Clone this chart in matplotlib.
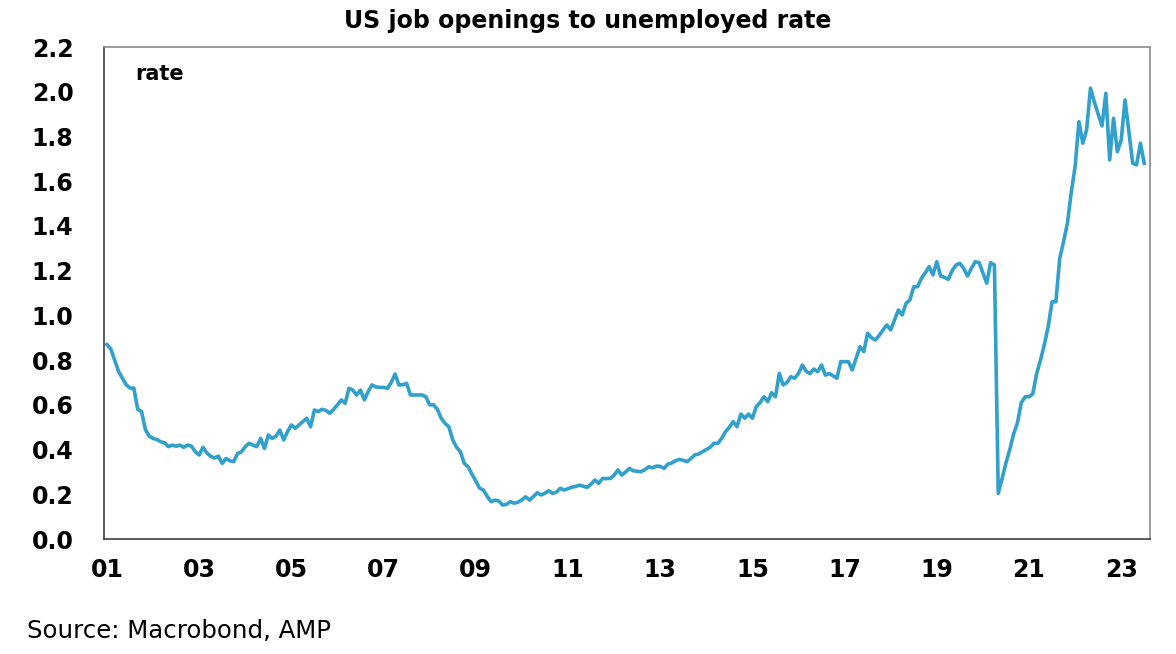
import matplotlib
matplotlib.use("Agg")
import matplotlib.pyplot as plt
import numpy as np

# monthly job openings / unemployed, Dec 2000 - Jun 2023
v2000 = [0.87]
v2001 = [0.85, 0.80, 0.75, 0.72, 0.69, 0.675, 0.675, 0.58, 0.57, 0.49, 0.46, 0.45]
v2002 = [0.445, 0.435, 0.43, 0.413, 0.42, 0.415, 0.42, 0.41, 0.42, 0.415, 0.39, 0.376]
v2003 = [0.41, 0.385, 0.37, 0.362, 0.371, 0.338, 0.36, 0.35, 0.346, 0.383, 0.39, 0.413]
v2004 = [0.428, 0.42, 0.413, 0.45, 0.405, 0.465, 0.45, 0.46, 0.487, 0.443, 0.48, 0.51]
v2005 = [0.495, 0.51, 0.525, 0.54, 0.502, 0.577, 0.57, 0.58, 0.575, 0.562, 0.58, 0.60]
v2006 = [0.622, 0.607, 0.674, 0.666, 0.644, 0.666, 0.622, 0.66, 0.689, 0.68, 0.678, 0.678]
v2007 = [0.674, 0.70, 0.738, 0.689, 0.69, 0.696, 0.644, 0.644, 0.644, 0.644, 0.636, 0.60]
v2008 = [0.60, 0.58, 0.54, 0.517, 0.502, 0.443, 0.41, 0.39, 0.338, 0.323, 0.29, 0.26]
v2009 = [0.227, 0.219, 0.19, 0.167, 0.174, 0.17, 0.152, 0.155, 0.167, 0.16, 0.165, 0.175]
v2010 = [0.189, 0.174, 0.19, 0.207, 0.197, 0.205, 0.216, 0.204, 0.21, 0.227, 0.219, 0.225]
v2011 = [0.232, 0.235, 0.241, 0.236, 0.231, 0.245, 0.264, 0.249, 0.271, 0.27, 0.271, 0.285]
v2012 = [0.309, 0.286, 0.30, 0.316, 0.305, 0.303, 0.301, 0.31, 0.323, 0.318, 0.326, 0.325]
v2013 = [0.316, 0.335, 0.34, 0.35, 0.356, 0.352, 0.346, 0.36, 0.376, 0.38, 0.39, 0.40]
v2014 = [0.41, 0.428, 0.428, 0.45, 0.48, 0.50, 0.525, 0.502, 0.559, 0.54, 0.559, 0.54]
v2015 = [0.592, 0.61, 0.636, 0.614, 0.654, 0.636, 0.741, 0.689, 0.70, 0.726, 0.719, 0.74]
v2016 = [0.778, 0.75, 0.74, 0.76, 0.748, 0.778, 0.733, 0.74, 0.73, 0.719, 0.793, 0.793]
v2017 = [0.793, 0.756, 0.808, 0.86, 0.838, 0.92, 0.90, 0.89, 0.91, 0.935, 0.957, 0.935]
v2018 = [0.98, 1.024, 1.002, 1.054, 1.069, 1.128, 1.128, 1.166, 1.19, 1.218, 1.181, 1.24]
v2019 = [1.176, 1.17, 1.161, 1.20, 1.225, 1.233, 1.21, 1.176, 1.21, 1.24, 1.236, 1.19]
v2020 = [1.144, 1.236, 1.225, 0.204, 0.27, 0.34, 0.40, 0.47, 0.52, 0.61, 0.636, 0.636]
v2021 = [0.65, 0.74, 0.80, 0.87, 0.95, 1.061, 1.061, 1.255, 1.33, 1.412, 1.55, 1.665]
v2022 = [1.866, 1.77, 1.83, 2.016, 1.956, 1.90, 1.847, 1.993, 1.695, 1.881, 1.732, 1.784]
v2023 = [1.963, 1.82, 1.68, 1.673, 1.77, 1.68]

values = (v2000 + v2001 + v2002 + v2003 + v2004 + v2005 + v2006 + v2007 + v2008
          + v2009 + v2010 + v2011 + v2012 + v2013 + v2014 + v2015 + v2016 + v2017
          + v2018 + v2019 + v2020 + v2021 + v2022 + v2023)
# month-end positions, first point Dec 2000
dates = 2001.0 + np.arange(len(values)) / 12.0

tick_years = list(range(2001, 2024, 2))
tick_labels = ['%02d' % (y % 100) for y in tick_years]
y_ticks = np.round(np.arange(0, 2.21, 0.2), 1)

plt.rcParams['font.family'] = ['DejaVu Sans']

fig = plt.figure(figsize=(11.76, 6.54), dpi=100)
ax = fig.add_axes([0.0884, 0.1758, 0.8895, 0.7523])

ax.plot(dates, values, color='#31a0cc', linewidth=2.6, solid_joinstyle='round')

ax.set_xlim(2000.935, 2023.625)
ax.set_ylim(0, 2.2)
ax.set_xticks(tick_years)
ax.set_xticklabels(tick_labels, fontsize=17, fontweight='bold')
ax.set_yticks(y_ticks)
ax.set_yticklabels(['%.1f' % y for y in y_ticks], fontsize=17, fontweight='bold')
ax.tick_params(axis='both', length=0)
ax.tick_params(axis='y', pad=22)
ax.tick_params(axis='x', pad=14)

for side in ['left', 'bottom']:
    ax.spines[side].set_color('#404040')
    ax.spines[side].set_linewidth(1.2)
for side in ['top', 'right']:
    ax.spines[side].set_color('#8a8a8a')
    ax.spines[side].set_linewidth(1.2)

fig.text(135 / 1176, 1 - 74 / 654, 'rate', fontsize=15, fontweight='bold',
         ha='left', va='center')

fig.text(0.5, 1 - 21 / 654, 'US job openings to unemployed rate', fontsize=17,
         fontweight='bold', ha='center', va='center')
fig.text(27 / 1176, 1 - 631 / 654, 'Source: Macrobond, AMP', fontsize=17.6,
         ha='left', va='center')

plt.savefig('out.png', dpi=100)
plt.close()
